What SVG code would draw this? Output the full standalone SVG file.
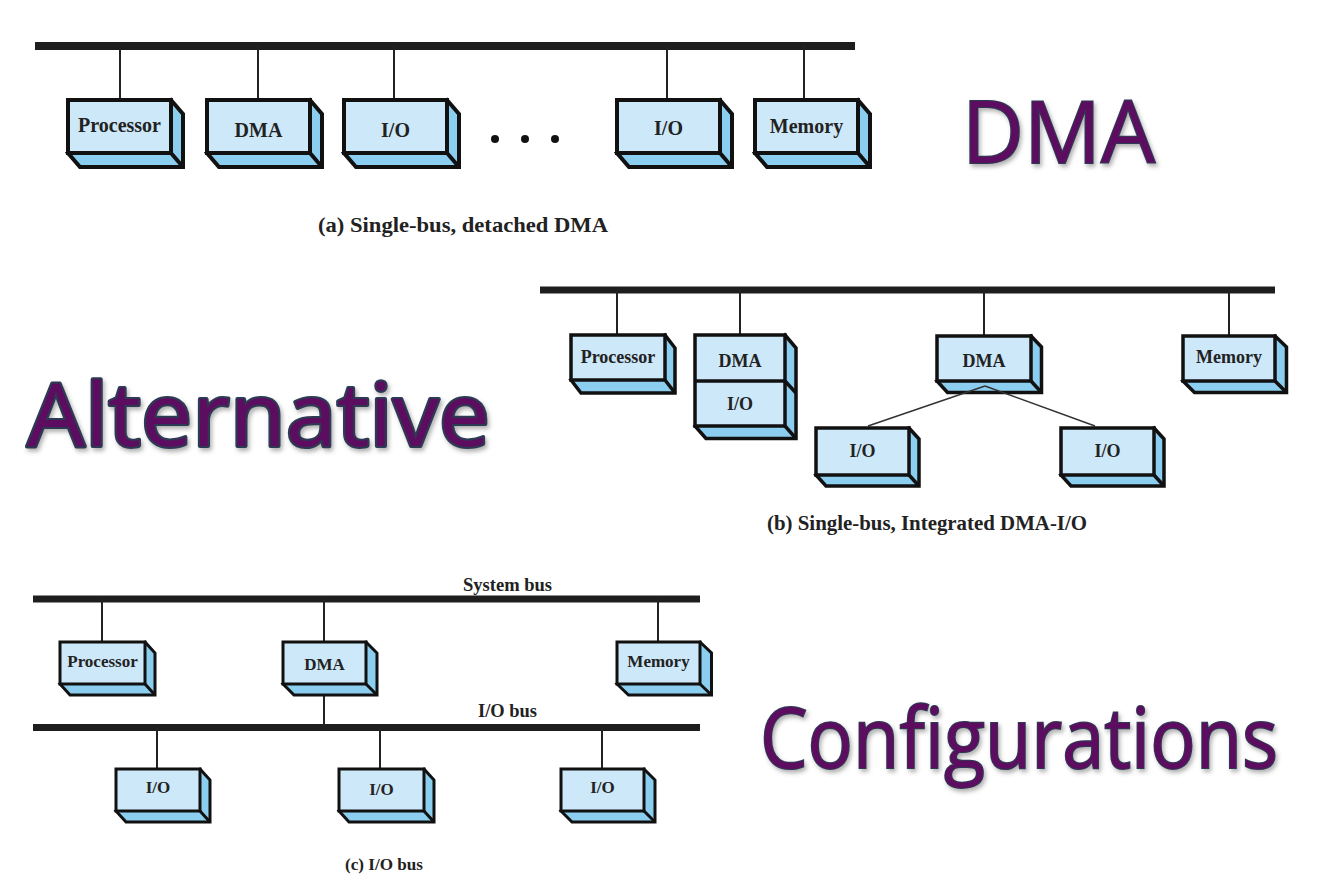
<svg xmlns="http://www.w3.org/2000/svg" width="1340" height="886" viewBox="0 0 1340 886">
<defs>
<filter id="sh" x="-10%" y="-10%" width="120%" height="130%">
<feDropShadow dx="2" dy="3" stdDeviation="2" flood-color="#555" flood-opacity="0.45"/>
</filter>
</defs>
<style>
.bus{stroke:#1e1e1e;stroke-linecap:butt;fill:none}
.conn{stroke:#222;stroke-width:2;fill:none}
.thin{stroke:#333;stroke-width:1.5;fill:none}
.side{fill:#8ccef0;stroke:#111;stroke-linejoin:miter}
.front{fill:#cde8f9;stroke:#111}
.edge{stroke:#111;fill:none}
.sa{stroke-width:4}
.sb{stroke-width:3.5}
.sc{stroke-width:3}
.lbl{font-family:"Liberation Serif","Times New Roman",serif;font-weight:bold;fill:#222;text-anchor:middle}
.la{font-size:20px}
.lb{font-size:18px}
.lc{font-size:17px}
.cap{font-family:"Liberation Serif","Times New Roman",serif;font-weight:bold;fill:#222;text-anchor:middle}
.big{font-family:"Open Sans","Noto Sans",sans-serif;fill:#5b1060;stroke:#2c3b52;stroke-width:2;paint-order:stroke;filter:url(#sh)}
.alt{font-family:"Noto Sans","DejaVu Sans",sans-serif;fill:#5b1060;stroke:#2c3b52;stroke-width:4;stroke-linejoin:round;paint-order:stroke;filter:url(#sh)}
.dot{fill:#111}
</style>

<g id="connectors">
<line class="bus" x1="35" y1="46" x2="855" y2="46" stroke-width="8"/>
<line class="conn" x1="120" y1="46" x2="120" y2="100"/>
<line class="conn" x1="258" y1="46" x2="258" y2="100"/>
<line class="conn" x1="394" y1="46" x2="394" y2="100"/>
<line class="conn" x1="667" y1="46" x2="667" y2="100"/>
<line class="conn" x1="804" y1="46" x2="804" y2="100"/>

<line class="bus" x1="540" y1="290" x2="1275" y2="290" stroke-width="7"/>
<line class="conn" x1="617" y1="290" x2="617" y2="335"/>
<line class="conn" x1="740" y1="290" x2="740" y2="335"/>
<line class="conn" x1="984" y1="290" x2="984" y2="336"/>
<line class="conn" x1="1229" y1="290" x2="1229" y2="336"/>

<line class="bus" x1="33" y1="599" x2="700" y2="599" stroke-width="7"/>
<line class="bus" x1="33" y1="727.5" x2="700" y2="727.5" stroke-width="7"/>
<line class="conn" x1="102" y1="599" x2="102" y2="642"/>
<line class="conn" x1="324" y1="599" x2="324" y2="642"/>
<line class="conn" x1="658" y1="599" x2="658" y2="642"/>
<line class="conn" x1="324" y1="695" x2="324" y2="727"/>
<line class="conn" x1="157" y1="727" x2="157" y2="769"/>
<line class="conn" x1="380" y1="727" x2="380" y2="769"/>
<line class="conn" x1="602" y1="727" x2="602" y2="769"/>
</g>

<!-- (a) -->
<g id="a-processor">
<polygon class="side sa" points="171,100 183,114 183,167 80,167 68,153"/>
<rect class="front sa" x="68" y="100" width="103" height="53"/>
<line class="edge sa" x1="171" y1="153" x2="183" y2="167"/>
<text class="lbl la" x="119.5" y="132">Processor</text>
</g>
<g id="a-dma">
<polygon class="side sa" points="310,100 322,114 322,167 219,167 207,153"/>
<rect class="front sa" x="207" y="100" width="103" height="53"/>
<line class="edge sa" x1="310" y1="153" x2="322" y2="167"/>
<text class="lbl la" x="258.5" y="137">DMA</text>
</g>
<g id="a-io1">
<polygon class="side sa" points="447,100 459,114 459,167 356,167 344,153"/>
<rect class="front sa" x="344" y="100" width="103" height="53"/>
<line class="edge sa" x1="447" y1="153" x2="459" y2="167"/>
<text class="lbl la" x="395.5" y="137">I/O</text>
</g>
<g id="a-dots">
<circle class="dot" cx="495" cy="139" r="4"/>
<circle class="dot" cx="525" cy="139" r="4"/>
<circle class="dot" cx="555" cy="139" r="4"/>
</g>
<g id="a-io2">
<polygon class="side sa" points="720,100 732,114 732,167 629,167 617,153"/>
<rect class="front sa" x="617" y="100" width="103" height="53"/>
<line class="edge sa" x1="720" y1="153" x2="732" y2="167"/>
<text class="lbl la" x="668.5" y="135">I/O</text>
</g>
<g id="a-memory">
<polygon class="side sa" points="858,100 870,114 870,167 767,167 755,153"/>
<rect class="front sa" x="755" y="100" width="103" height="53"/>
<line class="edge sa" x1="858" y1="153" x2="870" y2="167"/>
<text class="lbl la" x="806.5" y="133">Memory</text>
</g>
<text class="cap" x="463" y="232" font-size="21" textLength="290" lengthAdjust="spacingAndGlyphs">(a) Single-bus, detached DMA</text>

<!-- (b) -->
<g id="b-processor">
<polygon class="side sb" points="665,335 675,348 675,393 581,393 571,380"/>
<rect class="front sb" x="571" y="335" width="94" height="45"/>
<line class="edge sb" x1="665" y1="380" x2="675" y2="393"/>
<text class="lbl lb" x="618" y="363">Processor</text>
</g>
<g id="b-dma-io">
<polygon class="side sb" points="785,335 796,348 796,438.5 706,438.5 695,426"/>
<rect class="front sb" x="695" y="335" width="90" height="91"/>
<line class="edge sb" x1="695" y1="381" x2="785" y2="381"/>
<line class="edge sb" x1="785" y1="381" x2="796" y2="393"/>
<line class="edge sb" x1="785" y1="426" x2="796" y2="438.5"/>
<text class="lbl lb" x="740" y="367">DMA</text>
<text class="lbl lb" x="740" y="410">I/O</text>
</g>
<g id="b-dma">
<polygon class="side sb" points="1031,336 1041.5,347 1041.5,392.5 947.5,392.5 937,381"/>
<rect class="front sb" x="937" y="336" width="94" height="45"/>
<line class="edge sb" x1="1031" y1="381" x2="1041.5" y2="392.5"/>
<text class="lbl lb" x="984" y="367">DMA</text>
</g>
<g id="b-links">
<line class="thin" x1="985" y1="386" x2="868" y2="426"/>
<line class="thin" x1="985" y1="386" x2="1095" y2="426"/>
</g>
<g id="b-memory">
<polygon class="side sb" points="1275,336 1286.5,347 1286.5,392.5 1194.5,392.5 1183,381"/>
<rect class="front sb" x="1183" y="336" width="92" height="45"/>
<line class="edge sb" x1="1275" y1="381" x2="1286.5" y2="392.5"/>
<text class="lbl lb" x="1229" y="363">Memory</text>
</g>
<g id="b-io1">
<polygon class="side sb" points="909,428 919,439 919,486 826,486 816,475"/>
<rect class="front sb" x="816" y="428" width="93" height="47"/>
<line class="edge sb" x1="909" y1="475" x2="919" y2="486"/>
<text class="lbl lb" x="862.5" y="457">I/O</text>
</g>
<g id="b-io2">
<polygon class="side sb" points="1154,428 1164,439 1164,486 1071,486 1061,475"/>
<rect class="front sb" x="1061" y="428" width="93" height="47"/>
<line class="edge sb" x1="1154" y1="475" x2="1164" y2="486"/>
<text class="lbl lb" x="1107.5" y="457">I/O</text>
</g>
<text class="cap" x="927" y="530" font-size="20" textLength="320" lengthAdjust="spacingAndGlyphs">(b) Single-bus, Integrated DMA-I/O</text>

<!-- (c) -->
<text class="cap" x="507.5" y="591" font-size="18" textLength="89" lengthAdjust="spacingAndGlyphs">System bus</text>
<text class="cap" x="507.5" y="717" font-size="18" textLength="59" lengthAdjust="spacingAndGlyphs">I/O bus</text>
<g id="c-processor">
<polygon class="side sc" points="145,642 155,653 155,695 70,695 60,684"/>
<rect class="front sc" x="60" y="642" width="85" height="42"/>
<line class="edge sc" x1="145" y1="684" x2="155" y2="695"/>
<text class="lbl lc" x="102.5" y="667">Processor</text>
</g>
<g id="c-dma">
<polygon class="side sc" points="366,642 377,653 377,695 294,695 283,684"/>
<rect class="front sc" x="283" y="642" width="83" height="42"/>
<line class="edge sc" x1="366" y1="684" x2="377" y2="695"/>
<text class="lbl lc" x="324.5" y="670">DMA</text>
</g>
<g id="c-memory">
<polygon class="side sc" points="700,642 711.5,653 711.5,695 628.5,695 617,684"/>
<rect class="front sc" x="617" y="642" width="83" height="42"/>
<line class="edge sc" x1="700" y1="684" x2="711.5" y2="695"/>
<text class="lbl lc" x="658.5" y="667">Memory</text>
</g>
<g id="c-io1">
<polygon class="side sc" points="200,769 210,780 210,822 126,822 116,811"/>
<rect class="front sc" x="116" y="769" width="84" height="42"/>
<line class="edge sc" x1="200" y1="811" x2="210" y2="822"/>
<text class="lbl lc" x="158" y="793">I/O</text>
</g>
<g id="c-io2">
<polygon class="side sc" points="424,769 434,780 434,822 349,822 339,811"/>
<rect class="front sc" x="339" y="769" width="85" height="42"/>
<line class="edge sc" x1="424" y1="811" x2="434" y2="822"/>
<text class="lbl lc" x="381.5" y="795">I/O</text>
</g>
<g id="c-io3">
<polygon class="side sc" points="644,769 655,780 655,822 572,822 561,811"/>
<rect class="front sc" x="561" y="769" width="83" height="42"/>
<line class="edge sc" x1="644" y1="811" x2="655" y2="822"/>
<text class="lbl lc" x="602.5" y="793">I/O</text>
</g>
<text class="cap" x="384" y="870" font-size="17" textLength="78" lengthAdjust="spacingAndGlyphs">(c) I/O bus</text>

<!-- titles -->
<text class="big" x="962" y="163" font-size="86" textLength="193" lengthAdjust="spacingAndGlyphs">DMA</text>
<text class="alt" x="27" y="446" font-size="88" textLength="463" lengthAdjust="spacingAndGlyphs">Alternative</text>
<text class="big" x="760" y="768" font-size="84" textLength="518" lengthAdjust="spacingAndGlyphs">Configurations</text>
</svg>
